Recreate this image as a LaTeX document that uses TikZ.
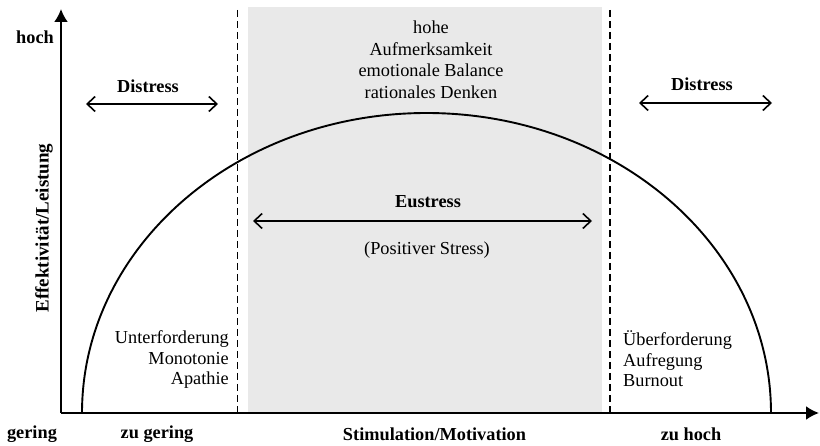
\documentclass[tikz,border=0pt]{standalone}
\usepackage{fontspec}
\setmainfont{Liberation Serif}
\usetikzlibrary{arrows.meta}
\definecolor{zonegray}{HTML}{E9E9E9}
\tikzset{
  lbl/.style={font=\fontsize{18.3}{21.5}\selectfont, inner sep=0pt},
  blbl/.style={font=\fontsize{18.3}{21.5}\selectfont\bfseries, inner sep=0pt},
  axisline/.style={line width=2pt, -{Latex[length=13pt,width=14pt]}},
  dblarrow/.style={line width=1.6pt, {Straight Barb[length=8pt,width=15pt,line width=1.6pt]}-{Straight Barb[length=8pt,width=15pt,line width=1.6pt]}},
  divider/.style={line width=1.6pt, dash pattern=on 7pt off 4pt},
}
\begin{document}
\begin{tikzpicture}[x=1pt,y=1pt]
\useasboundingbox (0,0) rectangle (820,445);
% gray zone
\fill[zonegray] (248,32) rectangle (602,438);
% dividers
\coordinate (dlt) at (237.5,435); \coordinate (dlb) at (237.5,32);
\coordinate (drt) at (610,435); \coordinate (drb) at (610,32);
\draw[divider] (dlt) -- (dlb);
\draw[divider] (drt) -- (drb);
% curve
\coordinate (cl) at (82,32);
\draw[line width=1.9pt] (cl) arc[start angle=180, end angle=0, x radius=344.5, y radius=300];
% axes
\coordinate (origin) at (61,32);
\coordinate (xend) at (819,32);
\coordinate (yend) at (61,436);
\draw[axisline] (origin) -- (xend);
\draw[axisline] (origin) -- (yend);
% top text
\node[lbl, align=center] (top) at (431,385.5) {hohe\\Aufmerksamkeit\\emotionale Balance\\rationales Denken};
% distress left
\node[blbl] (dl) at (148,359) {Distress};
\coordinate (dla) at (86,341); \coordinate (dlz) at (218,341);
\draw[dblarrow] (dla) -- (dlz);
% distress right
\node[blbl] (dr) at (702,361) {Distress};
\coordinate (dra) at (639,342); \coordinate (drz) at (772,342);
\draw[dblarrow] (dra) -- (drz);
% eustress
\node[blbl] (eu) at (428,243) {Eustress};
\coordinate (eua) at (253,224); \coordinate (euz) at (592,224);
\draw[dblarrow] (eua) -- (euz);
\node[lbl] (pos) at (427,195) {(Positiver Stress)};
% side texts
\node[lbl, align=right, anchor=east, font=\fontsize{18.3}{20.5}\selectfont] (under) at (229,85) {Unterforderung\\Monotonie\\Apathie};
\node[lbl, align=left, anchor=west, font=\fontsize{18.3}{20.5}\selectfont] (over) at (623,86) {Überforderung\\Aufregung\\Burnout};
% axis labels
\node[blbl] (hoch) at (35,408) {hoch};
\node[blbl] (gering) at (32,11) {gering};
\node[blbl] (zugering) at (157,11) {zu gering};
\node[blbl] (stim) at (434.5,11) {Stimulation/Motivation};
\node[blbl] (zuhoch) at (691,11) {zu hoch};
\node[blbl, rotate=90, font=\fontsize{19}{21.5}\selectfont\bfseries] (ylab) at (44,217) {Effektivität/Leistung};
\end{tikzpicture}
\end{document}
